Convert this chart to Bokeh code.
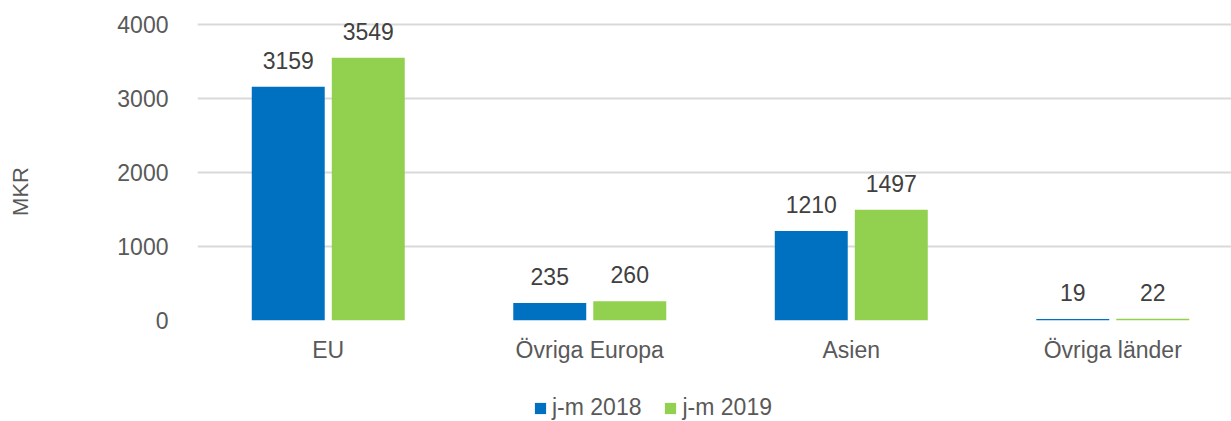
from bokeh.plotting import figure
from bokeh.models import ColumnDataSource, Range1d, Legend, LegendItem, FixedTicker, LabelSet, Label
from bokeh.layouts import row, column
from bokeh.core.properties import value
from bokeh.transform import dodge
from bokeh.embed import file_html
from bokeh.resources import INLINE

categories = ["EU", "Övriga Europa", "Asien", "Övriga länder"]
series_names = ["j-m 2018", "j-m 2019"]
values_2018 = [3159, 235, 1210, 19]
values_2019 = [3549, 260, 1497, 22]
y_ticks = [0, 1000, 2000, 3000, 4000]
y_title = "MKR"

FONT = "Liberation Sans"
TXT = "#595959"
FS = "23px"
C18 = "#0070C0"
C19 = "#92D050"

LEFT_W = 40          # width of the strip holding the y-axis title
MAIN_H = 381         # main chart height
LEG_H = 421 - MAIN_H # legend strip height

idx = list(range(len(categories)))
src = ColumnDataSource(dict(
    x=idx,
    v18=values_2018,
    v19=values_2019,
    l18=[str(v) for v in values_2018],
    l19=[str(v) for v in values_2019],
))

PX_PER_UNIT = 296 / 4000.0
TOP_PAD = 14
p = figure(frame_width=1034, frame_height=296 + TOP_PAD, output_backend="svg", toolbar_location=None,
           x_range=Range1d(-0.5, 3.454), y_range=Range1d(0, 4000 + TOP_PAD / PX_PER_UNIT),
           min_border_left=197 - LEFT_W, min_border_right=0, min_border_top=24 - TOP_PAD,
           min_border_bottom=MAIN_H - 320)
p.outline_line_color = None
p.background_fill_color = "white"
p.border_fill_color = "white"

off = 0.153
w = 0.279
r18 = p.vbar(x=dodge("x", -off, range=p.x_range), top="v18", width=w, source=src,
             color=C18, line_color=None)
r19 = p.vbar(x=dodge("x", off, range=p.x_range), top="v19", width=w, source=src,
             color=C19, line_color=None)

for col, lab, o in [("v18", "l18", -off), ("v19", "l19", off)]:
    ls = LabelSet(x=dodge("x", o, range=p.x_range), y=col, text=lab, source=src,
                  text_align="center", text_baseline="alphabetic", y_offset=18,
                  text_font=value(FONT), text_font_size=FS, text_color="#404040")
    p.add_layout(ls)

# axes
p.yaxis.ticker = FixedTicker(ticks=y_ticks)
p.yaxis.axis_line_color = None
p.yaxis.major_tick_line_color = None
p.yaxis.minor_tick_line_color = None
p.yaxis.major_label_standoff = 23
p.yaxis.major_label_text_font = FONT
p.yaxis.major_label_text_font_size = FS
p.yaxis.major_label_text_color = TXT

p.xaxis.ticker = FixedTicker(ticks=idx)
p.xaxis.major_label_overrides = {i: c for i, c in enumerate(categories)}
p.xaxis.axis_line_color = None
p.xaxis.major_tick_line_color = None
p.xaxis.minor_tick_line_color = None
p.xaxis.major_label_standoff = 10
p.xaxis.major_label_text_font = FONT
p.xaxis.major_label_text_font_size = FS
p.xaxis.major_label_text_color = TXT

p.xgrid.grid_line_color = None
p.ygrid.grid_line_color = "#D9D9D9"
p.ygrid.grid_line_width = 2

# strip with the y-axis title
pt = figure(frame_width=LEFT_W, frame_height=421, output_backend="svg", toolbar_location=None,
            x_axis_location=None, y_axis_location=None, min_border=0,
            x_range=Range1d(0, 1), y_range=Range1d(0, 1))
pt.outline_line_color = None
pt.grid.grid_line_color = None
pt.add_layout(Label(x=20, y=421 - 191, x_units="screen", y_units="screen", text=y_title,
                    angle=90, angle_units="deg", text_align="center", text_baseline="middle",
                    text_font=FONT, text_font_size="22px", text_color=TXT))

# legend strip (its bar renderers lie outside the visible range; they only supply swatches)
pl = figure(frame_width=1231 - LEFT_W, frame_height=LEG_H, output_backend="svg", toolbar_location=None,
            x_axis_location=None, y_axis_location=None, min_border=0,
            x_range=Range1d(-10, -9), y_range=Range1d(-10, -9))
pl.outline_line_color = None
pl.grid.grid_line_color = None
pl.xgrid.visible = False
pl.ygrid.visible = False
g18 = pl.vbar(x="x", top="v18", width=w, source=src, color=C18, line_color=None)
g19 = pl.vbar(x="x", top="v19", width=w, source=src, color=C19, line_color=None)
legend = Legend(items=[LegendItem(label=series_names[0], renderers=[g18]),
                       LegendItem(label=series_names[1], renderers=[g19])],
                orientation="horizontal", location=(533 - LEFT_W, 0),
                label_text_font=FONT, label_text_font_size=FS, label_text_color=TXT,
                glyph_width=14, glyph_height=14, label_standoff=5, spacing=22,
                padding=0, margin=0, border_line_color=None, background_fill_alpha=0)
pl.add_layout(legend, "center")

layout = row(pt, column(p, pl))
open("out.html", "w").write(file_html(layout, INLINE))
